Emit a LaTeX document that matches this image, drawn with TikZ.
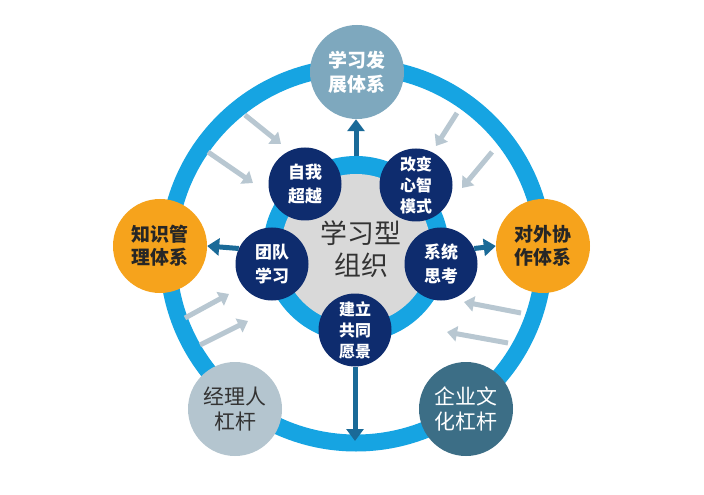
\documentclass[tikz,border=0pt]{standalone}
\usepackage{fontspec}
\newfontfamily\cjk{Noto Sans CJK SC}
\usetikzlibrary{arrows.meta}
\definecolor{ringblue}{HTML}{16A4E2}
\definecolor{topblue}{HTML}{7EA8BE}
\definecolor{orangec}{HTML}{F6A31C}
\definecolor{lgray}{HTML}{B4C5CF}
\definecolor{teal}{HTML}{3C6E86}
\definecolor{navy}{HTML}{0E2C6E}
\definecolor{darrowc}{HTML}{1A6A98}
\definecolor{garrowc}{HTML}{B8C7D1}
\definecolor{diskgray}{HTML}{D9D9D9}
\tikzset{
  bigc/.style={circle, minimum size=94bp, inner sep=0pt, align=center},
  smallc/.style={circle, fill=navy, minimum size=73bp, inner sep=0pt, align=center, text=white,
    font=\cjk\bfseries\fontsize{16}{21}\selectfont},
  darrow/.style={draw=darrowc, line width=5bp, -{Triangle[length=12bp,width=17bp]}},
  garrow/.style={draw=garrowc, line width=5bp, -{Triangle[length=10bp,width=15bp]}},
}
\begin{document}
\begin{tikzpicture}[x=1bp,y=-1bp]
\useasboundingbox (0,0) rectangle (704,495);
\fill[white] (0,0) rectangle (704,495);
% outer ring
\node[circle, draw=ringblue, line width=17bp, minimum size=376bp, inner sep=0pt] (outer) at (356,255) {};
% gray arrows
\coordinate (g1s) at (245,115); \coordinate (g1e) at (281,144);
\coordinate (g2s) at (208,152); \coordinate (g2e) at (253,183);
\coordinate (g3s) at (457,113); \coordinate (g3e) at (436,146);
\coordinate (g4s) at (492,152); \coordinate (g4e) at (462,188);
\coordinate (g5s) at (185,318); \coordinate (g5e) at (229,294);
\coordinate (g6s) at (200,345); \coordinate (g6e) at (248,321);
\coordinate (g7s) at (521,313); \coordinate (g7e) at (464,302);
\coordinate (g8s) at (508,343); \coordinate (g8e) at (447,332);
\foreach \i in {1,...,8} \draw[garrow] (g\i s) -- (g\i e);
% inner ring and disk
\node[circle, fill=ringblue, minimum size=186bp, inner sep=0pt] (ring) at (356,249) {};
\node[circle, fill=diskgray, minimum size=150bp, inner sep=0pt] (disk) at (356,249) {};
\node[font=\cjk\fontsize{27}{32}\selectfont, text=black!80, align=center] (center) at (361,249) {学习型\\组织};
% outer nodes
\node[bigc, fill=topblue, text=white, font=\cjk\bfseries\fontsize{19}{24}\selectfont] (top) at (357,72) {学习发\\展体系};
\node[bigc, fill=orangec, text=black!85, font=\cjk\bfseries\fontsize{19}{23}\selectfont] (left) at (160,246) {知识管\\理体系};
\node[bigc, fill=orangec, text=black!85, font=\cjk\bfseries\fontsize{19}{23}\selectfont] (right) at (543,246) {对外协\\作体系};
\node[bigc, fill=lgray, text=black!80, font=\cjk\fontsize{21}{25}\selectfont] (mgr) at (235,409) {经理人\\杠杆};
\node[bigc, fill=teal, text=white, font=\cjk\fontsize{21}{25}\selectfont] (cult) at (466,409) {企业文\\化杠杆};
% inner nodes
\node[smallc, font=\cjk\bfseries\fontsize{17}{24}\selectfont] (self) at (305,184) {自我\\超越};
\node[smallc] (mind) at (416,185) {改变\\心智\\模式};
\node[smallc, font=\cjk\bfseries\fontsize{17}{24}\selectfont] (team) at (272,264) {团队\\学习};
\node[smallc, font=\cjk\bfseries\fontsize{17}{24}\selectfont] (sys) at (441,264) {系统\\思考};
\node[smallc] (vision) at (355,330) {建立\\共同\\愿景};
% dark arrows
\coordinate (downend) at (355,441);
\draw[darrow] (ring.north) -- (ring.north |- top.south);
\draw[darrow] (team.155) -- (left.east);
\draw[darrow] (sys.25) -- (right.west);
\draw[darrow] (vision.south) -- (downend);
\end{tikzpicture}
\end{document}
